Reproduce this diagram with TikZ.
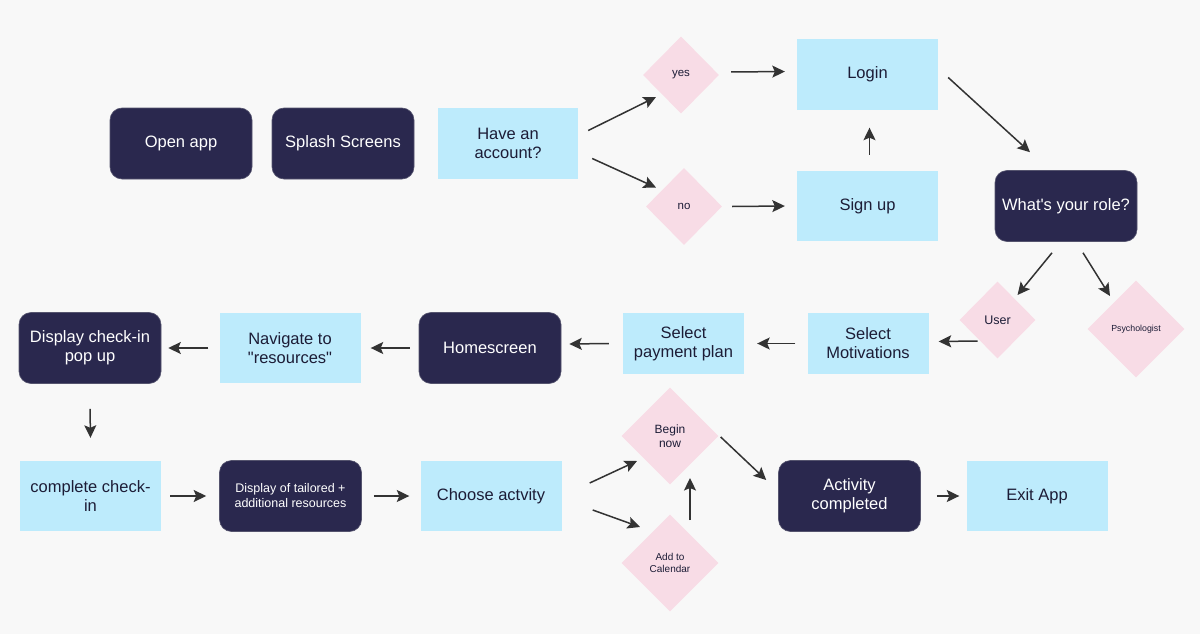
\documentclass[tikz,border=0pt]{standalone}
\usepackage{fontspec}
\setmainfont{Liberation Sans}[Ligatures=TeXOff]
\usetikzlibrary{shapes.geometric,arrows.meta,calc}
\definecolor{bg}{HTML}{F8F8F8}
\definecolor{navy}{HTML}{2A284E}
\definecolor{navyedge}{HTML}{55546E}
\definecolor{lblue}{HTML}{BDEBFC}
\definecolor{pinkd}{HTML}{F8DCE6}
\definecolor{ink}{HTML}{1C1C36}
\definecolor{arrowc}{HTML}{333333}
\tikzset{
  darkbox/.style={rectangle, rounded corners=12pt, fill=navy, draw=navyedge, line width=0.6pt,
    minimum width=142pt, minimum height=71pt, text=white, align=center,
    font=\fontsize{16.5}{19}\selectfont, inner sep=2pt},
  lightbox/.style={rectangle, fill=lblue, minimum width=141pt, minimum height=70pt,
    text=ink, align=center, font=\fontsize{16.5}{19}\selectfont, inner sep=2pt},
  smallbox/.style={lightbox, minimum width=121pt, minimum height=61pt},
  dia/.style={diamond, fill=pinkd, inner sep=0pt, minimum width=76pt, minimum height=77pt,
    text=ink, align=center, font=\fontsize{11.5}{13}\selectfont},
  bigdia/.style={dia, minimum width=97pt, minimum height=97pt},
  arr/.style={draw=arrowc, line width=1.5pt, -{Stealth[length=12.5pt,width=12pt,inset=2.5pt]}}
}
\begin{document}
\begin{tikzpicture}[x=1pt,y=-1pt]
\fill[bg] (0,0) rectangle (1200,634);
\useasboundingbox (0,0) rectangle (1200,634);

% row 1
\node[darkbox] (open) at (181,143.5) {Open app};
\node[darkbox] (splash) at (343,143.5) {Splash Screens};
\node[lightbox, minimum width=140pt, minimum height=71pt] (have) at (508,143.5) {Have an\\account?};
\node[dia] (yes) at (681,75) {yes};
\node[dia] (no) at (684,206.5) {no};
\node[lightbox] (login) at (867.5,74.5) {Login};
\node[lightbox] (signup) at (867.5,206) {Sign up};
\node[darkbox] (role) at (1066,206) {What's your role?};
\node[dia, font=\fontsize{12.5}{14}\selectfont] (user) at (997.5,320) {User};
\node[bigdia, font=\fontsize{8.8}{10}\selectfont] (psych) at (1136,329) {Psychologist};

% row 2
\node[smallbox] (motiv) at (868,343.5) {Select\\Motivations};
\node[smallbox] (pay) at (683.5,343.5) {Select\\payment plan};
\node[darkbox] (home) at (490,348) {Homescreen};
\node[lightbox] (nav) at (290,348) {Navigate to\\"resources"};
\node[darkbox] (disp) at (90,348) {Display check-in\\pop up};

% row 3
\node[lightbox] (complete) at (90.5,496) {complete check-\\in};
\node[darkbox, font=\fontsize{12.5}{15}\selectfont] (tail) at (290.5,496) {Display of tailored +\\additional resources};
\node[lightbox] (choose) at (491,496) {Choose actvity};
\node[bigdia, font=\fontsize{12}{14}\selectfont] (begin) at (670,436) {Begin\\now};
\node[bigdia, font=\fontsize{10}{11.5}\selectfont] (add) at (670,563) {Add to\\Calendar};
\node[darkbox] (act) at (849.5,496) {Activity\\completed};
\node[lightbox] (exit) at (1037,496) {Exit App};

% connectors
\draw[arr] ($(have.east)+(10,-13)$) -- ($(yes.center)+(-25,22)$);
\draw[arr] ($(have.east)+(14,15)$) -- ($(no.center)+(-28,-19)$);
\draw[arr] ($(yes.east)+(12,-3)$) -- ($(login.west)+(-12,-3)$);
\draw[arr] ($(no.east)+(10,0)$) -- ($(signup.west)+(-12,0)$);
\draw[arr] ($(signup.north)+(2,-16)$) -- ($(login.south)+(2,18)$);
\draw[arr] ($(login.east)+(10,3)$) -- ($(role.north)+(-36,-18)$);
\draw[arr] ($(role.south)+(-14,11)$) -- ($(user.center)+(20,-25)$);
\draw[arr] ($(role.south)+(17,11)$) -- ($(psych.center)+(-26,-33)$);
\draw[arr] ($(user.center)+(-20,21)$) -- ($(motiv.east)+(10,-2)$);
\draw[arr] ($(motiv.west)+(-12,0)$) -- ($(pay.east)+(13,0)$);
\draw[arr] ($(pay.west)+(-14,0)$) -- ($(home.east)+(8,-4)$);
\draw[arr] ($(home.west)+(-9,0)$) -- ($(nav.east)+(10,0)$);
\draw[arr] ($(nav.west)+(-11,0)$) -- ($(disp.east)+(7,0)$);
\draw[arr] ($(disp.south)+(0,25)$) -- ($(complete.north)+(0,-23)$);
\draw[arr] ($(complete.east)+(9,0)$) -- ($(tail.west)+(-13,0)$);
\draw[arr] ($(tail.east)+(12,0)$) -- ($(choose.west)+(-11,0)$);
\draw[arr] ($(choose.east)+(28,-13)$) -- ($(begin.center)+(-33,25)$);
\draw[arr] ($(choose.east)+(31,14)$) -- ($(add.center)+(-30,-36)$);
\draw[arr] ($(add.center)+(20,-43)$) -- ($(begin.center)+(20,42)$);
\draw[arr] ($(begin.east)+(2,1)$) -- ($(act.west)+(-12,-16)$);
\draw[arr] ($(act.east)+(16,0)$) -- ($(exit.west)+(-7,0)$);
\end{tikzpicture}
\end{document}
